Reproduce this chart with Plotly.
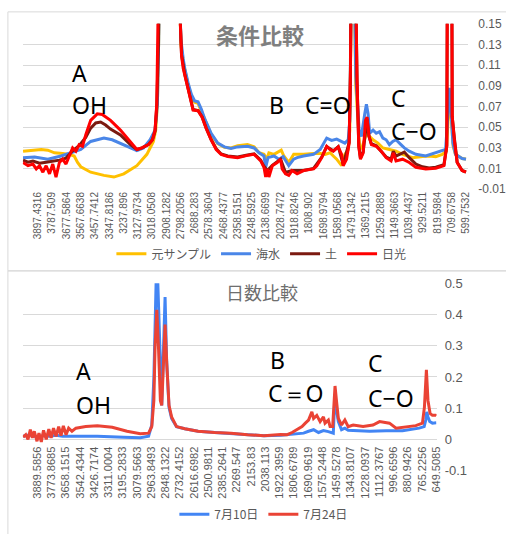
import plotly.graph_objects as go

# ---------------- data: 条件比較 (top chart) ----------------
top_tick_labels = ["3897.4316", "3787.509", "3677.5864", "3567.6638", "3457.7412", "3347.8186",
                   "3237.896", "3127.9734", "3018.0508", "2908.1282", "2798.2056", "2688.283",
                   "2578.3604", "2468.4377", "2358.5151", "2248.5925", "2138.6699", "2028.7472",
                   "1918.8246", "1808.902", "1698.9794", "1589.0568", "1479.1342", "1369.2115",
                   "1259.2889", "1149.3663", "1039.4437", "929.5211", "819.5984", "709.6758",
                   "599.7532"]
top_y_ticks = [-0.01, 0.01, 0.03, 0.05, 0.07, 0.09, 0.11, 0.13, 0.15]
top_y_labels = ["-0.01", "0.01", "0.03", "0.05", "0.07", "0.09", "0.11", "0.13", "0.15"]

top_sample = [(4012, 0.0267), (3936, 0.0276), (3872, 0.0283), (3821, 0.0276), (3770, 0.0251), (3707, 0.0245),
              (3656, 0.0236), (3618, 0.0220), (3592, 0.0157), (3567, 0.0116), (3491, 0.0063), (3389, 0.0032),
              (3312, 0.0016), (3236, 0.0047), (3135, 0.0126), (3058, 0.0236), (3008, 0.0361), (2990, 0.0471),
              (2977, 0.0722), (2967, 0.135), (2955, 0.30), (2921, 0.60), (2885, 0.20), (2850, 0.50),
              (2815, 0.22), (2796, 0.130), (2778, 0.113), (2766, 0.105), (2740, 0.091), (2715, 0.080),
              (2690, 0.074), (2664, 0.073), (2639, 0.066), (2613, 0.057), (2563, 0.043), (2512, 0.034),
              (2461, 0.0305), (2410, 0.0298), (2359, 0.0320), (2283, 0.0330), (2232, 0.0308), (2194, 0.0251),
              (2156, 0.0236), (2135, 0.0189), (2118, 0.0251), (2079, 0.0236), (2041, 0.0267), (2023, 0.0276),
              (2003, 0.0220), (1965, 0.0157), (1927, 0.0236), (1851, 0.0236), (1774, 0.0245), (1723, 0.0245),
              (1685, 0.0236), (1647, 0.0251), (1622, 0.0220), (1596, 0.0189), (1558, 0.0126), (1533, 0.0236),
              (1507, 0.0283), (1495, 0.0471), (1474, 0.30), (1449, 0.09), (1418, 0.0283), (1398, 0.0314),
              (1367, 0.0440), (1342, 0.0408), (1316, 0.0377), (1278, 0.0345), (1240, 0.0298), (1190, 0.0283),
              (1139, 0.0267), (1088, 0.0236), (1011, 0.0204), (935, 0.0214), (884, 0.0220), (833, 0.0214),
              (783, 0.0236), (752, 0.0267), (737, 0.0628), (726, 0.0816), (714, 0.0596), (699, 0.0314),
              (681, 0.0236), (630, 0.0195), (600, 0.0190)]

top_seawater = [(4012, 0.0204), (3923, 0.0211), (3821, 0.0189), (3719, 0.0220), (3643, 0.0251), (3567, 0.0283),
                (3491, 0.0361), (3389, 0.0393), (3325, 0.0377), (3211, 0.0314), (3135, 0.0273), (3084, 0.0298),
                (3033, 0.0377), (2995, 0.0471), (2977, 0.0722), (2967, 0.135), (2955, 0.30), (2921, 0.60),
                (2885, 0.20), (2850, 0.50), (2815, 0.22), (2796, 0.135), (2778, 0.116), (2766, 0.1067),
                (2740, 0.0926), (2715, 0.0816), (2690, 0.0753), (2664, 0.0744), (2639, 0.0675), (2613, 0.0581),
                (2563, 0.0440), (2512, 0.0345), (2461, 0.0308), (2410, 0.0292), (2359, 0.0308), (2283, 0.0314),
                (2232, 0.0298), (2194, 0.0251), (2156, 0.0220), (2143, 0.0110), (2125, 0.0204), (2079, 0.0220),
                (2041, 0.0189), (2008, 0.0214), (1965, 0.0126), (1927, 0.0189), (1901, 0.0204), (1851, 0.0220),
                (1774, 0.0236), (1723, 0.0283), (1673, 0.0393), (1635, 0.0371), (1596, 0.0383), (1558, 0.0361),
                (1533, 0.0345), (1507, 0.0377), (1495, 0.0565), (1474, 0.30), (1449, 0.10), (1423, 0.0471),
                (1406, 0.0408), (1380, 0.0628), (1367, 0.0722), (1354, 0.0628), (1342, 0.0440), (1316, 0.0471),
                (1291, 0.0440), (1266, 0.0455), (1240, 0.0393), (1215, 0.0377), (1190, 0.0330), (1164, 0.0361),
                (1139, 0.0377), (1101, 0.0330), (1075, 0.0298), (1037, 0.0267), (986, 0.0236), (910, 0.0220),
                (833, 0.0251), (783, 0.0267), (757, 0.0283), (742, 0.0565), (729, 0.0880), (714, 0.0628),
                (701, 0.0345), (681, 0.0236), (630, 0.0195), (600, 0.0189)]

top_soil = [(4012, 0.0180), (3974, 0.0160), (3936, 0.0170), (3885, 0.0150), (3834, 0.0160), (3783, 0.0170),
            (3732, 0.0180), (3681, 0.0200), (3630, 0.0270), (3580, 0.0320), (3529, 0.0400), (3491, 0.0490),
            (3452, 0.0540), (3414, 0.0549), (3376, 0.0520), (3338, 0.0480), (3262, 0.0424), (3185, 0.0330),
            (3135, 0.0283), (3096, 0.0298), (3046, 0.0330), (3015, 0.0377), (2995, 0.0460), (2982, 0.0700),
            (2969, 0.130), (2955, 0.30), (2921, 0.60), (2885, 0.20), (2850, 0.50), (2815, 0.20), (2791, 0.120),
            (2766, 0.1010), (2740, 0.0870), (2715, 0.0730), (2702, 0.0670), (2664, 0.0660), (2633, 0.0600),
            (2601, 0.0490), (2563, 0.0380), (2524, 0.0290), (2486, 0.0240), (2435, 0.0220), (2359, 0.0210),
            (2283, 0.0230), (2232, 0.0240), (2181, 0.0180), (2156, 0.0120), (2130, 0.0080), (2092, 0.0130),
            (2028, 0.0190), (1990, 0.0060), (1940, 0.0080), (1851, 0.0080), (1774, 0.0100), (1711, 0.0210),
            (1673, 0.0310), (1622, 0.0270), (1584, 0.0310), (1546, 0.0140), (1500, 0.0350), (1490, 0.100),
            (1474, 0.40), (1462, 0.30), (1449, 0.15), (1439, 0.0950), (1426, 0.0320), (1413, 0.0200),
            (1392, 0.0260), (1362, 0.0580), (1347, 0.0410), (1329, 0.0340), (1291, 0.0320), (1253, 0.0270),
            (1215, 0.0210), (1177, 0.0190), (1160, 0.0267), (1139, 0.0220), (1110, 0.0240), (1075, 0.0258),
            (1037, 0.0204), (986, 0.0142), (935, 0.0115), (884, 0.0105), (833, 0.0112), (770, 0.0135),
            (748, 0.0320), (738, 0.40), (726, 0.80), (714, 0.40), (706, 0.06), (690, 0.0400), (668, 0.0160),
            (630, 0.0080), (600, 0.0065)]

top_sunlight = [(4012, 0.0157), (3974, 0.0126), (3936, 0.0142), (3910, 0.0095), (3885, 0.0126), (3859, 0.0063),
                (3834, 0.0126), (3808, 0.0047), (3783, 0.0142), (3758, 0.0016), (3732, 0.0157), (3707, 0.0189),
                (3681, 0.0142), (3656, 0.0220), (3630, 0.0298), (3605, 0.0267), (3580, 0.0330), (3554, 0.0314),
                (3529, 0.0424), (3491, 0.0565), (3440, 0.0628), (3402, 0.0622), (3338, 0.0565), (3262, 0.0471),
                (3185, 0.0361), (3135, 0.0283), (3096, 0.0298), (3046, 0.0330), (3015, 0.0377), (2995, 0.0471),
                (2982, 0.0722), (2969, 0.135), (2955, 0.30), (2921, 0.60), (2885, 0.20), (2850, 0.50),
                (2815, 0.20), (2791, 0.119), (2778, 0.1067), (2766, 0.1004), (2740, 0.0863), (2715, 0.0722),
                (2702, 0.0665), (2664, 0.0659), (2633, 0.0596), (2601, 0.0487), (2563, 0.0377), (2524, 0.0283),
                (2486, 0.0236), (2435, 0.0214), (2359, 0.0204), (2283, 0.0226), (2232, 0.0236), (2181, 0.0173),
                (2156, 0.0110), (2143, 0.0016), (2130, 0.0095), (2118, 0.0016), (2092, 0.0126), (2054, 0.0157),
                (2028, 0.0189), (2016, 0.0095), (1990, 0.0047), (1965, 0.0032), (1940, 0.0079), (1901, 0.0047),
                (1851, 0.0079), (1774, 0.0095), (1749, 0.0126), (1711, 0.0204), (1673, 0.0314), (1647, 0.0283),
                (1622, 0.0267), (1584, 0.0308), (1558, 0.0236), (1546, 0.0126), (1520, 0.0189), (1500, 0.0345),
                (1490, 0.1036), (1474, 0.40), (1462, 0.30), (1449, 0.15), (1439, 0.0942), (1426, 0.0314),
                (1413, 0.0189), (1392, 0.0251), (1374, 0.0565), (1362, 0.0596), (1347, 0.0408), (1329, 0.0330),
                (1291, 0.0314), (1253, 0.0267), (1215, 0.0204), (1177, 0.0173), (1160, 0.0251), (1139, 0.0173),
                (1088, 0.0189), (1037, 0.0157), (986, 0.0110), (910, 0.0095), (833, 0.0101), (770, 0.0126),
                (748, 0.0314), (738, 0.40), (726, 0.80), (714, 0.40), (706, 0.06), (690, 0.0377), (668, 0.0157),
                (630, 0.0079), (600, 0.0063)]

# ---------------- data: 日数比較 (bottom chart) ----------------
bottom_tick_labels = ["3889.5856", "3773.8685", "3658.1515", "3542.4344", "3426.7174", "3311.0004",
                      "3195.2833", "3079.5663", "2963.8493", "2848.1322", "2732.4152", "2616.6982",
                      "2500.9811", "2385.2641", "2269.547", "2153.83", "2038.113", "1922.3959",
                      "1806.6789", "1690.9619", "1575.2448", "1459.5278", "1343.8107", "1228.0937",
                      "1112.3767", "996.6596", "880.9426", "765.2256", "649.5085"]
bottom_y_ticks = [-0.1, 0, 0.1, 0.2, 0.3, 0.4, 0.5]
bottom_y_labels = ["-0.1", "0", "0.1", "0.2", "0.3", "0.4", "0.5"]

day_0710 = [(4005, 0.010), (3951, 0.015), (3898, 0.008), (3844, 0.012), (3790, 0.010), (3737, 0.013),
            (3683, 0.010), (3616, 0.010), (3402, 0.010), (3187, 0.007), (3053, 0.005), (2986, 0.010),
            (2960, 0.046), (2943, 0.197), (2930, 0.45), (2919, 0.60), (2879, 0.109), (2866, 0.249),
            (2852, 0.456), (2839, 0.249), (2820, 0.103), (2799, 0.067), (2759, 0.041), (2692, 0.034),
            (2584, 0.026), (2450, 0.022), (2316, 0.018), (2182, 0.015), (2049, 0.012), (1914, 0.013),
            (1834, 0.015), (1780, 0.018), (1727, 0.020), (1687, 0.026), (1646, 0.031), (1606, 0.022),
            (1566, 0.028), (1526, 0.025), (1486, 0.020), (1478, 0.093), (1472, 0.145), (1459, 0.093),
            (1445, 0.057), (1419, 0.031), (1392, 0.036), (1365, 0.029), (1298, 0.028), (1191, 0.026),
            (1057, 0.028), (924, 0.028), (789, 0.036), (748, 0.041), (735, 0.062), (727, 0.088),
            (717, 0.072), (703, 0.057), (681, 0.052), (655, 0.052), (649.5, 0.053)]

day_0724 = [(4005, 0.007), (3983, 0.015), (3965, 0.000), (3946, 0.031), (3930, 0.005), (3914, 0.026),
            (3892, -0.006), (3876, 0.020), (3857, -0.008), (3839, 0.029), (3817, 0.000), (3796, 0.033),
            (3777, 0.005), (3758, 0.036), (3737, 0.010), (3716, 0.041), (3697, 0.012), (3678, 0.043),
            (3656, 0.015), (3635, 0.036), (3608, 0.026), (3576, 0.036), (3496, 0.041), (3402, 0.044),
            (3281, 0.039), (3161, 0.026), (3053, 0.018), (2986, 0.020), (2960, 0.041), (2943, 0.124),
            (2933, 0.300), (2919, 0.415), (2906, 0.300), (2890, 0.124), (2879, 0.109), (2866, 0.218),
            (2852, 0.368), (2839, 0.249), (2820, 0.109), (2799, 0.072), (2759, 0.041), (2692, 0.034),
            (2584, 0.026), (2450, 0.022), (2316, 0.020), (2182, 0.015), (2049, 0.012), (1914, 0.016),
            (1861, 0.015), (1821, 0.022), (1780, 0.031), (1740, 0.041), (1713, 0.052), (1687, 0.062),
            (1660, 0.088), (1646, 0.067), (1620, 0.077), (1593, 0.057), (1566, 0.072), (1553, 0.052),
            (1526, 0.062), (1512, 0.041), (1491, 0.041), (1481, 0.124), (1472, 0.171), (1459, 0.119),
            (1445, 0.067), (1419, 0.046), (1392, 0.062), (1365, 0.041), (1325, 0.046), (1244, 0.041),
            (1164, 0.046), (1110, 0.057), (1070, 0.054), (1030, 0.052), (976, 0.036), (896, 0.041),
            (816, 0.044), (762, 0.052), (746, 0.103), (730, 0.223), (717, 0.124), (700, 0.083),
            (681, 0.077), (655, 0.077), (649.5, 0.075)]

# ---------------- figure ----------------
W, H = 506, 534


def fx(px):
    return px / W


def fy(py):
    return 1 - py / H


def split(pairs):
    return [p[0] for p in pairs], [p[1] for p in pairs]


fig = go.Figure()

top_series = [("元サンプル", top_sample, "#FFC000"),
              ("海水", top_seawater, "#4A86E8"),
              ("土", top_soil, "#7B1A10"),
              ("日光", top_sunlight, "#FF0000")]
for name, pairs, color in top_series:
    xs, ys = split(pairs)
    fig.add_trace(go.Scatter(x=xs, y=ys, mode="lines", name=name,
                             line=dict(color=color, width=3),
                             xaxis="x", yaxis="y", legend="legend"))

bottom_series = [("7月10日", day_0710, "#4285F4"),
                 ("7月24日", day_0724, "#EA4335")]
for name, pairs, color in bottom_series:
    xs, ys = split(pairs)
    fig.add_trace(go.Scatter(x=xs, y=ys, mode="lines", name=name,
                             line=dict(color=color, width=3),
                             xaxis="x2", yaxis="y2", legend="legend2"))

grid = "#D9D9D9"
txt = "#595959"
num_font = "Liberation Sans"
cjk = "Noto Sans CJK JP"

fig.update_layout(
    width=W, height=H,
    margin=dict(l=0, r=0, t=0, b=0),
    paper_bgcolor="white", plot_bgcolor="white",
    xaxis=dict(domain=[fx(23), fx(473)], range=[4014, 582], anchor="y",
               tickmode="array", tickvals=[float(t) for t in top_tick_labels],
               ticktext=top_tick_labels, tickangle=-90, showgrid=False,
               zeroline=False, showline=False, ticks="",
               tickfont=dict(family=num_font, size=10, color=txt)),
    yaxis=dict(domain=[fy(187.3), fy(17.3)], range=[-0.01, 0.15], anchor="x",
               side="right", tickmode="array", tickvals=top_y_ticks, ticktext=top_y_labels,
               showgrid=True, gridcolor=grid, gridwidth=1, zeroline=False, showline=False,
               ticks="", ticklabelstandoff=9,
               tickfont=dict(family=num_font, size=12, color=txt)),
    xaxis2=dict(domain=[fx(23), fx(441)], range=[4007.5, 646.8], anchor="free",
                position=fy(445),
                tickmode="array", tickvals=[float(t) for t in bottom_tick_labels],
                ticktext=bottom_tick_labels, tickangle=-90, showgrid=False,
                zeroline=False, showline=False, ticks="", ticklabelstandoff=4,
                tickfont=dict(family=num_font, size=11, color=txt)),
    yaxis2=dict(domain=[fy(477), fy(284.3)], range=[-0.1, 0.5], anchor="x2",
                side="right", tickmode="array", tickvals=bottom_y_ticks, ticktext=bottom_y_labels,
                showgrid=True, gridcolor=grid, gridwidth=1, zeroline=False, showline=False,
                ticks="", ticklabelstandoff=7,
                tickfont=dict(family=num_font, size=13, color=txt)),
    legend=dict(orientation="h", x=fx(264), xanchor="center", y=fy(254), yanchor="middle",
                font=dict(family=cjk, size=12, color=txt), itemwidth=30,
                bgcolor="rgba(0,0,0,0)", tracegroupgap=0),
    legend2=dict(orientation="h", x=fx(266), xanchor="center", y=fy(522), yanchor="middle",
                 font=dict(family=cjk, size=12, color=txt), itemwidth=30,
                 bgcolor="rgba(0,0,0,0)", tracegroupgap=0),
    showlegend=True,
)

# chart-area borders
fig.add_shape(type="rect", xref="paper", yref="paper",
              x0=fx(8), x1=1.05, y0=fy(271.5), y1=fy(5),
              line=dict(color=grid, width=1), fillcolor="rgba(0,0,0,0)", layer="below")
fig.add_shape(type="rect", xref="paper", yref="paper",
              x0=fx(8), x1=1.05, y0=-0.05, y1=fy(271.5),
              line=dict(color=grid, width=1), fillcolor="rgba(0,0,0,0)", layer="below")

# titles
fig.add_annotation(text="<b>条件比較</b>", x=fx(263), y=fy(28), xref="paper", yref="paper",
                   xanchor="center", yanchor="middle", showarrow=False,
                   font=dict(family=cjk, size=22, color="#7F7F7F"))
fig.add_annotation(text="日数比較", x=fx(265), y=fy(293), xref="paper", yref="paper",
                   xanchor="center", yanchor="middle", showarrow=False,
                   font=dict(family=cjk, size=18, color="#6E6E6E"))

# band labels
labels = [("A", 71, 67.5), ("OH", 71, 101), ("B", 270, 100.5), ("C=O", 306, 100.5),
          ("C", 393, 93.5), ("C−O", 393, 127.5),
          ("A", 75, 375), ("OH", 75, 410), ("B", 271, 363), ("C＝O", 269, 397.5),
          ("C", 370, 366.5), ("C−O", 370, 402.5)]
for t, px, py in labels:
    fig.add_annotation(text=t, x=fx(px), y=fy(py), xref="paper", yref="paper",
                       xanchor="left", yanchor="middle", showarrow=False,
                       font=dict(family="Noto Sans", size=23, color="#000000"))

fig.write_html("out.html")
